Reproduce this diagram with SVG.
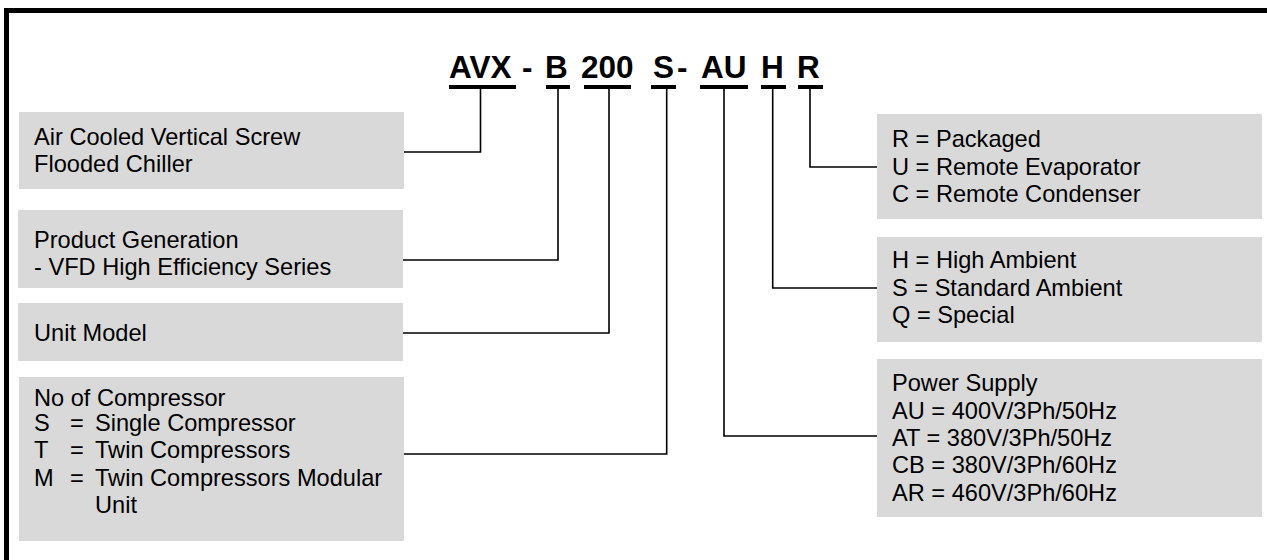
<svg xmlns="http://www.w3.org/2000/svg" width="1267" height="560" viewBox="0 0 1267 560">
<style>
.box{fill:#d9d9d9}
.t{font-family:"Liberation Sans",Arial,sans-serif;font-size:23.6px;fill:#000}
.code{font-family:"Liberation Sans",Arial,sans-serif;font-size:31.5px;font-weight:bold;fill:#000}
.ul{fill:#000}
.c{fill:none;stroke:#000;stroke-width:1.6}
</style>
<rect x="0" y="0" width="1267" height="560" fill="#fff"/>
<g id="frame">
<rect x="4" y="8" width="1263" height="5" fill="#000"/>
<rect x="4" y="8" width="5" height="552" fill="#000"/>
</g>
<g id="code">
<text class="code" x="449" y="78">AVX</text>
<text class="code" x="522" y="78">-</text>
<text class="code" x="545" y="78">B</text>
<text class="code" x="581" y="78">200</text>
<text class="code" x="653" y="78">S</text>
<text class="code" x="677" y="78">-</text>
<text class="code" x="701" y="78">AU</text>
<text class="code" x="761" y="78">H</text>
<text class="code" x="797" y="78">R</text>
<rect class="ul" x="449" y="85" width="67" height="4"/>
<rect class="ul" x="546" y="85" width="24" height="4"/>
<rect class="ul" x="584" y="85" width="47" height="4"/>
<rect class="ul" x="651" y="85" width="25" height="4"/>
<rect class="ul" x="700" y="85" width="48" height="4"/>
<rect class="ul" x="761" y="85" width="25" height="4"/>
<rect class="ul" x="798" y="85" width="25" height="4"/>
</g>
<g id="connectors">
<path class="c" d="M480.5 89 V152 H404"/>
<path class="c" d="M558 89 V260 H403"/>
<path class="c" d="M609 89 V333 H403"/>
<path class="c" d="M666.7 89 V454 H404"/>
<path class="c" d="M724 89 V436 H877"/>
<path class="c" d="M772.7 89 V288 H877"/>
<path class="c" d="M810 89 V167 H877"/>
</g>
<g id="type">
<rect class="box" x="19" y="112" width="385" height="77"/>
<text class="t" x="34" y="145">Air Cooled Vertical Screw</text>
<text class="t" x="34" y="172">Flooded Chiller</text>
</g>
<g id="generation">
<rect class="box" x="18" y="210" width="385" height="78"/>
<text class="t" x="34" y="248">Product Generation</text>
<text class="t" x="34" y="275">- VFD High Efficiency Series</text>
</g>
<g id="model">
<rect class="box" x="18" y="303" width="385" height="58"/>
<text class="t" x="34" y="341">Unit Model</text>
</g>
<g id="compressor">
<rect class="box" x="19" y="377" width="385" height="164"/>
<text class="t" x="34" y="406">No of Compressor</text>
<text class="t" x="34" y="431">S</text><text class="t" x="70" y="431">=</text><text class="t" x="95" y="431">Single Compressor</text>
<text class="t" x="34" y="458">T</text><text class="t" x="70" y="458">=</text><text class="t" x="95" y="458">Twin Compressors</text>
<text class="t" x="34" y="486">M</text><text class="t" x="70" y="486">=</text><text class="t" x="95" y="486">Twin Compressors Modular</text>
<text class="t" x="95" y="513">Unit</text>
</g>
<g id="arrangement">
<rect class="box" x="877" y="114" width="385" height="105"/>
<text class="t" x="892" y="147">R = Packaged</text>
<text class="t" x="892" y="175">U = Remote Evaporator</text>
<text class="t" x="892" y="202">C = Remote Condenser</text>
</g>
<g id="ambient">
<rect class="box" x="877" y="237" width="385" height="105"/>
<text class="t" x="892" y="268">H = High Ambient</text>
<text class="t" x="892" y="296">S = Standard Ambient</text>
<text class="t" x="892" y="323">Q = Special</text>
</g>
<g id="power">
<rect class="box" x="877" y="359" width="385" height="158"/>
<text class="t" x="892" y="391">Power Supply</text>
<text class="t" x="892" y="419">AU = 400V/3Ph/50Hz</text>
<text class="t" x="892" y="446">AT = 380V/3Ph/50Hz</text>
<text class="t" x="892" y="473">CB = 380V/3Ph/60Hz</text>
<text class="t" x="892" y="501">AR = 460V/3Ph/60Hz</text>
</g>
</svg>
